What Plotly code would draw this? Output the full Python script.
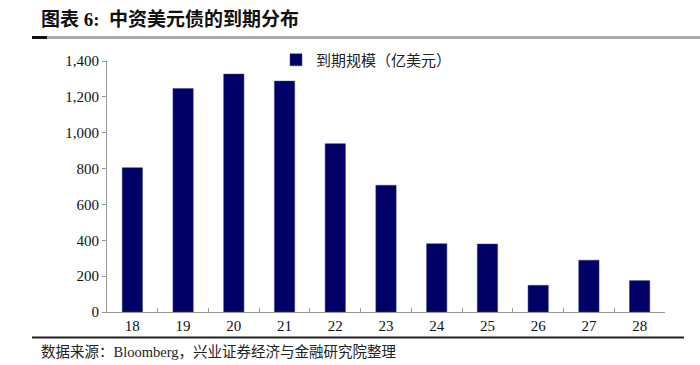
import plotly.graph_objects as go

years = ["18", "19", "20", "21", "22", "23", "24", "25", "26", "27", "28"]
maturity = [805, 1246, 1327, 1288, 939, 707, 381, 379, 149, 289, 175]
series_name = "到期规模（亿美元）"
y_ticks = [0, 200, 400, 600, 800, 1000, 1200, 1400]
y_labels = ["0", "200", "400", "600", "800", "1,000", "1,200", "1,400"]

W, H = 700, 365
L, R, T, B = 107, 35, 61, 53
pw = W - L - R
ph = H - T - B

def px(x):
    return (x - L) / pw

def py(y):
    return (H - B - y) / ph

fig = go.Figure()
fig.add_trace(go.Bar(
    x=years, y=maturity, name=series_name,
    marker=dict(color="#000066", line=dict(color="#3a3a80", width=0.5)),
    width=0.4, showlegend=True,
))

serif = "Liberation Serif, Times New Roman, serif"
cjk = "Noto Sans CJK SC, sans-serif"

fig.update_layout(
    width=W, height=H,
    margin=dict(l=L, r=R, t=T, b=B),
    paper_bgcolor="white", plot_bgcolor="white",
    showlegend=True,
    legend=dict(
        x=px(276), y=py(60), xanchor="left", yanchor="middle",
        orientation="h", font=dict(family=cjk, size=15, color="#222"),
        bgcolor="rgba(0,0,0,0)", itemwidth=30,
    ),
    xaxis=dict(
        type="category", showgrid=False, showline=True, linecolor="#999",
        linewidth=1, ticks="inside", tickson="boundaries", ticklen=4,
        tickcolor="#999", tickfont=dict(family=serif, size=15, color="#111"),
        range=[-0.5, 10.5],
    ),
    yaxis=dict(
        range=[0, 1400], tickvals=y_ticks, ticktext=y_labels,
        showgrid=False, showline=True, linecolor="#999", linewidth=1,
        ticks="outside", ticklen=4, tickcolor="#999",
        tickfont=dict(family=serif, size=15, color="#111"), zeroline=False,
    ),
    bargap=0.6,
)

fig.add_annotation(
    text="<b>图表 6:  中资美元债的到期分布</b>", xref="paper", yref="paper",
    x=px(39), y=py(20), xanchor="left", yanchor="middle", showarrow=False,
    font=dict(family="Liberation Serif, Noto Sans CJK SC", size=19, color="#111"),
)
fig.add_annotation(
    text="数据来源：Bloomberg，兴业证券经济与金融研究院整理", xref="paper", yref="paper",
    x=px(39), y=py(352), xanchor="left", yanchor="middle", showarrow=False,
    font=dict(family="Liberation Serif, Noto Sans CJK SC", size=14.5, color="#222"),
)
fig.add_shape(type="line", xref="paper", yref="paper",
              x0=px(32), x1=px(700), y0=py(37.5), y1=py(37.5),
              line=dict(color="#aaaaaa", width=3))
fig.add_shape(type="line", xref="paper", yref="paper",
              x0=px(32), x1=px(47), y0=py(37.5), y1=py(37.5),
              line=dict(color="#111", width=3))
fig.add_shape(type="line", xref="paper", yref="paper",
              x0=px(32), x1=px(684), y0=py(337.5), y1=py(337.5),
              line=dict(color="#222", width=2))

fig.write_html("out.html", config={"displayModeBar": False},
               post_script="document.body.style.margin='0';document.body.style.overflow='hidden';")
